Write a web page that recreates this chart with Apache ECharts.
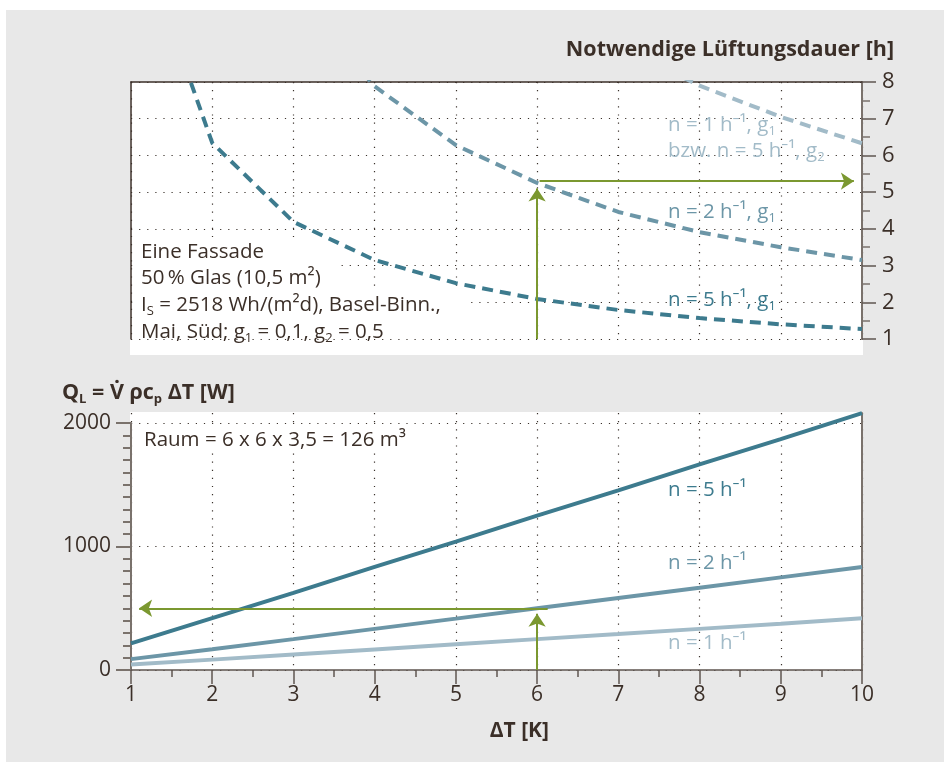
<!DOCTYPE html>
<html><head><meta charset="utf-8">
<script src="https://cdn.jsdelivr.net/npm/echarts@6/dist/echarts.min.js"></script>
<style>html,body{margin:0;padding:0;background:#fff}#c{width:944px;height:762px}</style>
</head><body><div id="c"></div>
<script>
// ---- data ----
const xValues = [1, 2, 3, 4, 5, 6, 7, 8, 9, 10];
const durationN5g1 = [12.6, 6.34, 4.19, 3.15, 2.52, 2.09, 1.79, 1.57, 1.40, 1.27];
const durationN2g1 = [null, null, 10.5, 7.88, 6.28, 5.25, 4.46, 3.91, 3.50, 3.15];
const durationN1g1 = [null, null, null, null, null, null, 9.0, 7.9, 7.05, 6.33];
const heatN5 = [215, 420, 625, 835, 1040, 1250, 1455, 1665, 1870, 2080];
const heatN2 = [88, 168, 250, 333, 416, 500, 583, 666, 750, 834];
const heatN1 = [44, 84, 125, 166, 208, 250, 291, 333, 375, 420];
const arrowTopUp = [[6, 1], [6, 5.1]];
const arrowTopRight = [[6.03, 5.3], [9.9, 5.3]];
const arrowBottomUp = [[6, 0], [6, 455]];
const arrowBottomLeft = [[6.13, 500], [1.1, 500]];

// ---- styles ----
const FONT = '"Open Sans", "Noto Sans", "DejaVu Sans", sans-serif';
const TXT = '#3b2f28';
const C5 = '#3d7b8e', C2 = '#6c96a7', C1 = '#a2bbc8';
const GREEN = '#7b9830';
const DOT = { color: '#3b322c', width: 1.2, type: [1.2, 6.9] };

function pairs(vals) {
  const out = [];
  vals.forEach((v, i) => { if (v !== null) out.push([xValues[i], v]); });
  return out;
}
function rich(color, weight, size) {
  return {
    sub: { fontFamily: FONT, fontSize: Math.round(size * 0.62), fontWeight: weight, fill: color, verticalAlign: 'bottom', lineHeight: 14 }
  };
}
function txt(x, y, text, color, opts) {
  opts = opts || {};
  const weight = opts.bold ? 'bold' : 'normal';
  const size = opts.size || 20;
  const style = {
    text: text, fill: color, fontFamily: FONT, fontSize: size, fontWeight: weight,
    align: opts.align || 'left', verticalAlign: 'middle', lineHeight: 26,
    rich: rich(color, weight, size)
  };
  if (opts.bg) { style.backgroundColor = '#fff'; style.padding = opts.pad || [0, 4, 0, 4]; }
  return { type: 'text', x: x, y: y, z: 6, silent: true, style: style };
}
function arrowLine(seg) {
  return [{ coord: seg[0] }, { coord: seg[1] }];
}
const markArrows = (segs) => ({
  silent: true, symbol: ['none', 'arrow'], symbolSize: [13, 13],
  label: { show: false }, emphasis: { disabled: true }, animation: false,
  lineStyle: { color: GREEN, width: 2, type: 'solid' },
  itemStyle: { color: GREEN },
  data: segs.map(arrowLine)
});

const chart = echarts.init(document.getElementById('c'), null, { renderer: 'canvas' });
const axisGray = '#7a726c';
const axisDark = '#5f5650';
const plain = (v) => String(v);

const option = {
  animation: false,
  backgroundColor: '#fff',
  grid: [
    { left: 131, top: 82, width: 731, height: 257 },
    { left: 131, top: 413, width: 731, height: 257 },
    { left: 131, top: 423, width: 731, height: 247 }
  ],
  xAxis: [
    { gridIndex: 0, type: 'value', min: 1, max: 10, interval: 1, position: 'top',
      axisLine: { show: true, onZero: false, lineStyle: { color: '#3b2f28', width: 1.5 } },
      axisTick: { show: false }, axisLabel: { show: false }, splitLine: { show: true, lineStyle: DOT } },
    { gridIndex: 1, type: 'value', min: 1, max: 10, interval: 1, position: 'bottom',
      axisLine: { show: true, onZero: false, lineStyle: { color: axisDark, width: 1.5 } },
      axisTick: { show: true, inside: false, length: 14, lineStyle: { color: axisDark, width: 1.5 } },
      minorTick: { show: true, splitNumber: 2, length: 7, lineStyle: { color: axisDark, width: 1.5 } },
      axisLabel: { show: true, margin: 15, fontSize: 21, fontFamily: FONT, color: TXT, formatter: plain },
      splitLine: { show: true, lineStyle: DOT } },
    { gridIndex: 2, type: 'value', min: 1, max: 10, show: false }
  ],
  yAxis: [
    { gridIndex: 0, type: 'value', min: 1, max: 8, interval: 1, position: 'right',
      axisLine: { show: true, onZero: false, lineStyle: { color: axisGray, width: 2 } },
      axisTick: { show: true, inside: false, length: 14, lineStyle: { color: axisDark, width: 1.5 } },
      minorTick: { show: true, splitNumber: 2, length: 8, lineStyle: { color: axisGray, width: 1.5 } },
      axisLabel: { show: true, margin: 20, fontSize: 22, fontFamily: FONT, color: TXT, formatter: plain },
      splitLine: { show: true, lineStyle: DOT } },
    { gridIndex: 0, type: 'value', min: 1, max: 8, position: 'left',
      axisLine: { show: true, onZero: false, lineStyle: { color: '#3b2f28', width: 1.5 } },
      axisTick: { show: false }, axisLabel: { show: false }, splitLine: { show: false } },
    { gridIndex: 1, type: 'value', min: 0, max: 2081, position: 'right',
      axisLine: { show: true, onZero: false, lineStyle: { color: axisGray, width: 2 } },
      axisTick: { show: false }, axisLabel: { show: false }, splitLine: { show: false } },
    { gridIndex: 2, type: 'value', min: 0, max: 2000, interval: 1000, position: 'left',
      axisLine: { show: true, onZero: false, lineStyle: { color: axisGray, width: 2 } },
      axisTick: { show: true, inside: false, length: 15, lineStyle: { color: axisGray, width: 2 } },
      minorTick: { show: true, splitNumber: 10, length: 8, lineStyle: { color: axisGray, width: 2 } },
      axisLabel: { show: true, margin: 20, fontSize: 21, fontFamily: FONT, color: TXT, formatter: plain },
      splitLine: { show: true, lineStyle: DOT } }
  ],
  series: [
    { type: 'line', xAxisIndex: 0, yAxisIndex: 0, data: pairs(durationN1g1), symbol: 'none', clip: true,
      lineStyle: { color: C1, width: 4, type: [11, 7] } },
    { type: 'line', xAxisIndex: 0, yAxisIndex: 0, data: pairs(durationN2g1), symbol: 'none', clip: true,
      lineStyle: { color: C2, width: 4, type: [11, 7] } },
    { type: 'line', xAxisIndex: 0, yAxisIndex: 0, data: pairs(durationN5g1), symbol: 'none', clip: true,
      lineStyle: { color: C5, width: 4, type: [11, 7] },
      markLine: markArrows([arrowTopUp, arrowTopRight]) },
    { type: 'line', xAxisIndex: 1, yAxisIndex: 2, data: pairs(heatN1), symbol: 'none', clip: false,
      lineStyle: { color: C1, width: 4 } },
    { type: 'line', xAxisIndex: 1, yAxisIndex: 2, data: pairs(heatN2), symbol: 'none', clip: false,
      lineStyle: { color: C2, width: 4 },
      markLine: markArrows([arrowBottomUp, arrowBottomLeft]) },
    { type: 'line', xAxisIndex: 1, yAxisIndex: 2, data: pairs(heatN5), symbol: 'none', clip: false,
      lineStyle: { color: C5, width: 4 } }
  ],
  graphic: { elements: [
    { type: 'rect', z: -10, silent: true, shape: { x: 6, y: 10, width: 940, height: 760 }, style: { fill: '#e8e8e8' } },
    { type: 'rect', z: -9, silent: true, shape: { x: 130, y: 82, width: 733, height: 273 }, style: { fill: '#fff' } },
    { type: 'rect', z: -9, silent: true, shape: { x: 130, y: 412, width: 733, height: 258 }, style: { fill: '#fff' } },
    { type: 'rect', z: 1, silent: true, shape: { x: 133, y: 238, width: 167, height: 28 }, style: { fill: '#fff' } },
    { type: 'rect', z: 1, silent: true, shape: { x: 133, y: 265, width: 208, height: 26 }, style: { fill: '#fff' } },
    { type: 'rect', z: 1, silent: true, shape: { x: 133, y: 290, width: 337, height: 48 }, style: { fill: '#fff' } },
    txt(894, 50, 'Notwendige Lüftungsdauer [h]', TXT, { bold: true, align: 'right', size: 21.5 }),
    txt(62, 393, 'Q{sub|L} = V\u0307 ρc{sub|p} ΔT [W]', TXT, { bold: true, size: 21.5 }),
    txt(549, 731, 'ΔT [K]', TXT, { bold: true, align: 'right', size: 21 }),
    txt(141, 252, 'Eine Fassade', TXT, { size: 20.5 }),
    txt(141, 278, '50\u2009% Glas (10,5 m²)', TXT, { size: 20.5 }),
    txt(141, 305, 'I{sub|S} = 2518 Wh/(m²d), Basel-Binn.,', TXT, { size: 20.5 }),
    txt(141, 332, 'Mai, Süd; g{sub|1} = 0,1, g{sub|2} = 0,5', TXT, { size: 20.5 }),
    txt(668, 125, 'n = 1 h⁻¹, g{sub|1}', C1, { size: 20.5 }),
    txt(668, 151, 'bzw. n = 5 h⁻¹, g{sub|2}', C1, { size: 20.5 }),
    txt(668, 212, 'n = 2 h⁻¹, g{sub|1}', C2, { size: 20.5 }),
    txt(668, 300, 'n = 5 h⁻¹, g{sub|1}', C5, { size: 20.5 }),
    txt(140, 440, 'Raum = 6 x 6 x 3,5 = 126 m³', TXT, { size: 20.5, bg: true }),
    txt(668, 490, 'n = 5 h⁻¹', C5, { size: 20.5 }),
    txt(668, 563, 'n = 2 h⁻¹', C2, { size: 20.5 }),
    txt(668, 643, 'n = 1 h⁻¹', C1, { size: 20.5 })
  ] }
};
chart.setOption(option);
</script>
</body></html>
